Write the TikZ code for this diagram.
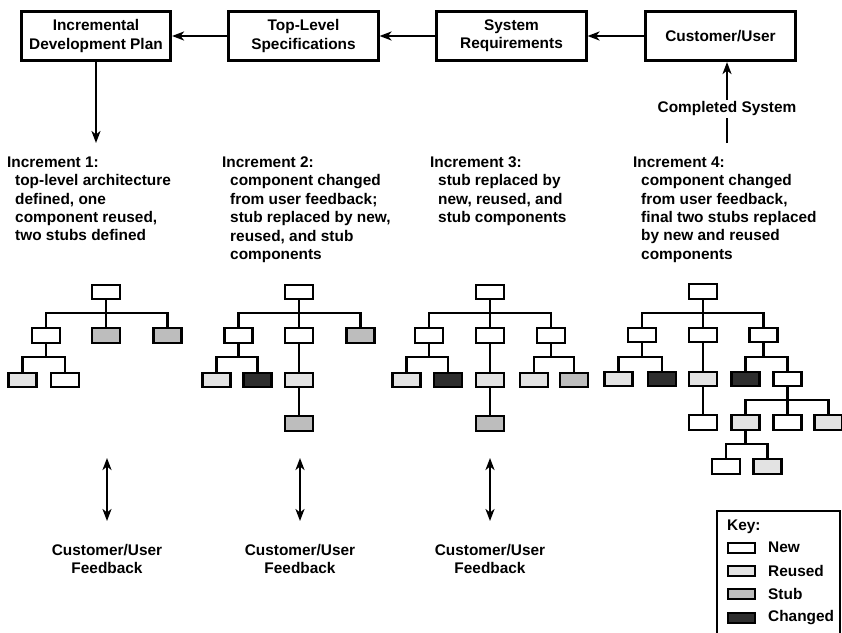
\documentclass[tikz,border=0pt]{standalone}
\usepackage{fontspec}
\setmainfont{Liberation Sans}
\usetikzlibrary{arrows.meta}

% one branch of a component tree: parent, y of the bar, list of children
\newcommand\fork[3]{%
  \foreach \ch in {#3}{\draw[link] (#1.south) -- (#1.south |- 0,#2) -| (\ch.north);}}

\begin{document}
\begin{tikzpicture}[x=1pt,y=-1pt,
  txt/.style={font=\fontsize{15.4}{18.4}\selectfont\bfseries},
  topbox/.style={draw,line width=2.6pt,minimum width=149.5pt,minimum height=49.5pt,
                 inner sep=0pt,align=center,txt},
  head/.style={Stealth[length=12pt,width=9pt,inset=3.5pt]},
  flow/.style={line width=2.2pt,-{Stealth[length=12pt,width=9pt,inset=3.5pt]}},
  both/.style={line width=2.2pt,{Stealth[length=12pt,width=9pt,inset=3.5pt]}-{Stealth[length=12pt,width=9pt,inset=3.5pt]}},
  comp/.style={draw,line width=2.4pt,minimum width=28pt,minimum height=14.5pt,inner sep=0pt},
  new/.style={comp,fill=white},
  reused/.style={comp,fill=gray!22},
  stub/.style={comp,fill=gray!52},
  changed/.style={comp,fill=black!82},
  swatch/.style={minimum width=27pt,minimum height=10pt,line width=2pt},
  link/.style={line width=2.2pt},
  inctext/.style={txt,align=left,anchor=north west,inner sep=0pt},
  lbl/.style={txt,anchor=west,inner sep=0pt}
]
\useasboundingbox (0,0) rectangle (842,632);

% ---- process chain ----
\node[topbox] (plan) at (96,36)    {Incremental\\Development Plan};
\node[topbox] (spec) at (303.5,36) {Top-Level\\Specifications};
\node[topbox] (req)  at (511.5,36) {System\\Requirements};
\node[topbox] (cust) at (720.5,36) {Customer/User};

\draw[flow] (spec.west) -- (plan.east);
\draw[flow] (req.west)  -- (spec.east);
\draw[flow] (cust.west) -- (req.east);

\coordinate (planend) at (96,143);
\draw[flow] (plan.south) -- (planend);

\coordinate (sysstart) at (727,143);
\draw[flow] (sysstart) -- (sysstart |- cust.south)
  node[pos=0.42,fill=white,inner sep=1.5pt,txt] (done) {Completed System};

% ---- increment descriptions ----
\node[inctext] (inc1) at (7,156.5) {Increment 1:\\
  \hspace*{8pt}top-level architecture\\
  \hspace*{8pt}defined, one\\
  \hspace*{8pt}component reused,\\
  \hspace*{8pt}two stubs defined};
\node[inctext] (inc2) at (222,156.5) {Increment 2:\\
  \hspace*{8pt}component changed\\
  \hspace*{8pt}from user feedback;\\
  \hspace*{8pt}stub replaced by new,\\
  \hspace*{8pt}reused, and stub\\
  \hspace*{8pt}components};
\node[inctext] (inc3) at (430,156.5) {Increment 3:\\
  \hspace*{8pt}stub replaced by\\
  \hspace*{8pt}new, reused, and\\
  \hspace*{8pt}stub components};
\node[inctext] (inc4) at (633,156.5) {Increment 4:\\
  \hspace*{8pt}component changed\\
  \hspace*{8pt}from user feedback,\\
  \hspace*{8pt}final two stubs replaced\\
  \hspace*{8pt}by new and reused\\
  \hspace*{8pt}components};

% ---- increment 1 tree ----
\node[new]    (t1r) at (106,292) {};
\node[new]    (t1a) at (46,335.5) {};
\node[stub]   (t1b) at (106,335.5) {};
\node[stub]   (t1c) at (167.5,335.5) {};
\node[reused] (t1d) at (22.5,380) {};
\node[new]    (t1e) at (65,380) {};
\fork{t1r}{313}{t1a,t1b,t1c}
\fork{t1a}{357}{t1d,t1e}

% ---- increment 2 tree ----
\node[new]     (t2r) at (299,292) {};
\node[new]     (t2a) at (238.5,335.5) {};
\node[new]     (t2b) at (299,335.5) {};
\node[stub]    (t2c) at (360.5,335.5) {};
\node[reused]  (t2d) at (216.5,380) {};
\node[changed] (t2e) at (257.5,380) {};
\node[reused]  (t2f) at (299,380) {};
\node[stub]    (t2g) at (299,423.5) {};
\fork{t2r}{313}{t2a,t2b,t2c}
\fork{t2a}{357}{t2d,t2e}
\fork{t2b}{357}{t2f}
\fork{t2f}{400}{t2g}

% ---- increment 3 tree ----
\node[new]     (t3r) at (490,292) {};
\node[new]     (t3a) at (429,335.5) {};
\node[new]     (t3b) at (490,335.5) {};
\node[new]     (t3c) at (551,335.5) {};
\node[reused]  (t3d) at (406.5,380) {};
\node[changed] (t3e) at (448,380) {};
\node[reused]  (t3f) at (490,380) {};
\node[reused]  (t3g) at (534,380) {};
\node[stub]    (t3h) at (574,380) {};
\node[stub]    (t3i) at (490,423.5) {};
\fork{t3r}{313}{t3a,t3b,t3c}
\fork{t3a}{357}{t3d,t3e}
\fork{t3b}{357}{t3f}
\fork{t3c}{357}{t3g,t3h}
\fork{t3f}{400}{t3i}

% ---- increment 4 tree ----
\node[new]     (t4r) at (703,291.5) {};
\node[new]     (t4a) at (642,335) {};
\node[new]     (t4b) at (703,335) {};
\node[new]     (t4c) at (763.5,335) {};
\node[reused]  (t4d) at (618.5,379) {};
\node[changed] (t4e) at (662,379) {};
\node[reused]  (t4f) at (703,379) {};
\node[changed] (t4g) at (745.5,379) {};
\node[new]     (t4h) at (787.5,379) {};
\node[new]     (t4i) at (703,422.5) {};
\node[reused]  (t4j) at (745.5,422.5) {};
\node[new]     (t4k) at (787.5,422.5) {};
\node[reused]  (t4l) at (828.5,422.5) {};
\node[new]     (t4m) at (726,466.5) {};
\node[reused]  (t4n) at (767.5,466.5) {};
\fork{t4r}{313}{t4a,t4b,t4c}
\fork{t4a}{357}{t4d,t4e}
\fork{t4b}{357}{t4f}
\fork{t4c}{357}{t4g,t4h}
\fork{t4f}{400}{t4i}
\fork{t4h}{400}{t4j,t4k,t4l}
\fork{t4j}{444}{t4m,t4n}

% ---- user feedback ----
\foreach \i/\x in {1/107,2/300,3/490}{
  \coordinate (fbtop\i) at (\x,458);
  \coordinate (fbbot\i) at (\x,521);
  \draw[both] (fbtop\i) -- (fbbot\i);
  \node[txt,align=center,inner sep=0pt] (fb\i) at (\x,559) {Customer/User\\Feedback};
}

% ---- key ----
\draw[line width=1.8pt] (717,645) -- (717,511) -- (840,511) -- (840,645);
\node[lbl] (keyt) at (727,527) {Key:};
\node[new,swatch]     (kn) at (741.5,547.5) {};
\node[reused,swatch]  (kr) at (741.5,570.5) {};
\node[stub,swatch]    (ks) at (741.5,594) {};
\node[changed,swatch] (kc) at (741.5,617.5) {};
\node[lbl] (knl) at (768,547.5) {New};
\node[lbl] (krl) at (768,570.5) {Reused};
\node[lbl] (ksl) at (768,594) {Stub};
\node[lbl] (kcl) at (768,617.5) {Changed};
\end{tikzpicture}
\end{document}
